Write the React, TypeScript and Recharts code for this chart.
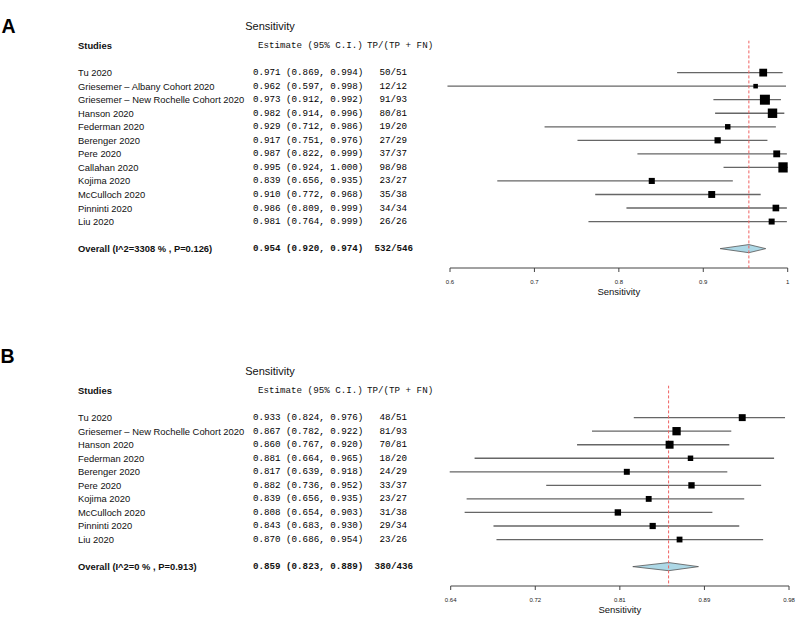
import React from 'react';
import { ComposedChart, Scatter, XAxis, YAxis, ErrorBar } from 'recharts';

// ---------- Panel A data ----------
const namesA = [
  'Tu 2020',
  'Griesemer – Albany Cohort 2020',
  'Griesemer – New Rochelle Cohort 2020',
  'Hanson 2020',
  'Federman 2020',
  'Berenger 2020',
  'Pere 2020',
  'Callahan 2020',
  'Kojima 2020',
  'McCulloch 2020',
  'Pinninti 2020',
  'Liu 2020',
];
const estA = [0.971, 0.962, 0.973, 0.982, 0.929, 0.917, 0.987, 0.995, 0.839, 0.910, 0.986, 0.981];
const lowA = [0.869, 0.597, 0.912, 0.914, 0.712, 0.751, 0.822, 0.924, 0.656, 0.772, 0.809, 0.764];
const highA = [0.994, 0.998, 0.992, 0.996, 0.986, 0.976, 0.999, 1.000, 0.935, 0.968, 0.999, 0.999];
const tpA = [50, 12, 91, 80, 19, 27, 37, 98, 23, 35, 34, 26];
const totalA = [51, 12, 93, 81, 20, 29, 37, 98, 27, 38, 34, 26];
const overallLabelA = 'Overall (I^2=3308 % , P=0.126)';
const overallA = [0.954, 0.920, 0.974];
const overallCountA = [532, 546];
const xTicksA = [0.6, 0.7, 0.8, 0.9, 1.0];
const xTickLabelsA = ['0.6', '0.7', '0.8', '0.9', '1'];

// ---------- Panel B data ----------
const namesB = [
  'Tu 2020',
  'Griesemer – New Rochelle Cohort 2020',
  'Hanson 2020',
  'Federman 2020',
  'Berenger 2020',
  'Pere 2020',
  'Kojima 2020',
  'McCulloch 2020',
  'Pinninti 2020',
  'Liu 2020',
];
const estB = [0.933, 0.867, 0.860, 0.881, 0.817, 0.882, 0.839, 0.808, 0.843, 0.870];
const lowB = [0.824, 0.782, 0.767, 0.664, 0.639, 0.736, 0.656, 0.654, 0.683, 0.686];
const highB = [0.976, 0.922, 0.920, 0.965, 0.918, 0.952, 0.935, 0.903, 0.930, 0.954];
const tpB = [48, 81, 70, 18, 24, 33, 23, 31, 29, 23];
const totalB = [51, 93, 81, 20, 29, 37, 27, 38, 34, 26];
const overallLabelB = 'Overall (I^2=0 % , P=0.913)';
const overallB = [0.859, 0.823, 0.889];
const overallCountB = [380, 436];
const xTicksB = [0.64, 0.725, 0.81, 0.895, 0.98];
const xTickLabelsB = ['0.64', '0.72', '0.81', '0.89', '0.98'];

const SANS = '"Liberation Sans", Arial, sans-serif';
const MONO = '"Liberation Mono", "Courier New", monospace';
const TXT = '#111';

type Panel = {
  names: string[];
  est: number[];
  low: number[];
  high: number[];
  tp: number[];
  total: number[];
  overallLabel: string;
  overall: number[];
  overallCount: number[];
  xTicks: number[];
  xTickLabels: string[];
  boxA: number;
  boxB: number;
  yAxisWidth: number;
  marginRight: number;
};

const panelA: Panel = {
  names: namesA, est: estA, low: lowA, high: highA, tp: tpA, total: totalA,
  overallLabel: overallLabelA, overall: overallA, overallCount: overallCountA,
  xTicks: xTicksA, xTickLabels: xTickLabelsA,
  boxA: 1.5, boxB: 0.88, yAxisWidth: 450, marginRight: 10.3,
};
const panelB: Panel = {
  names: namesB, est: estB, low: lowB, high: highB, tp: tpB, total: totalB,
  overallLabel: overallLabelB, overall: overallB, overallCount: overallCountB,
  xTicks: xTicksB, xTickLabels: xTickLabelsB,
  boxA: 3.0, boxB: 0.55, yAxisWidth: 450.7, marginRight: 9,
};

const fmtCI = (e: number, l: number, h: number) =>
  `${e.toFixed(3)} (${l.toFixed(3)}, ${h.toFixed(3)})`;

function RowTick(props: any) {
  const { y, payload, panel } = props as { y: number; payload: { value: number }; panel: Panel };
  const v = payload.value;
  const n = panel.names.length;
  if (v === -2) {
    return (
      <g>
        <text x={78} y={y} dominantBaseline="central" fontFamily={SANS} fontSize={9.4} fontWeight="bold" fill={TXT}>
          Studies
        </text>
        <text x={258} y={y} dominantBaseline="central" fontFamily={MONO} fontSize={9.2} fill={TXT}>
          Estimate (95% C.I.)
        </text>
        <text x={367} y={y} dominantBaseline="central" fontFamily={MONO} fontSize={9.2} fill={TXT}>
          TP/(TP + FN)
        </text>
      </g>
    );
  }
  if (v === n + 1) {
    return (
      <g>
        <text x={78} y={y} dominantBaseline="central" fontFamily={SANS} fontSize={9.4} fontWeight="bold" fill={TXT}>
          {panel.overallLabel}
        </text>
        <text x={253} y={y} dominantBaseline="central" fontFamily={MONO} fontSize={9.2} fontWeight="bold" fill={TXT}>
          {fmtCI(panel.overall[0], panel.overall[1], panel.overall[2])}
        </text>
        <text x={413} y={y} textAnchor="end" dominantBaseline="central" fontFamily={MONO} fontSize={9.2} fontWeight="bold" fill={TXT}>
          {`${panel.overallCount[0]}/${panel.overallCount[1]}`}
        </text>
      </g>
    );
  }
  if (v >= 0 && v < n) {
    return (
      <g>
        <text x={78} y={y} dominantBaseline="central" fontFamily={SANS} fontSize={9.4} fill={TXT}>
          {panel.names[v]}
        </text>
        <text x={253} y={y} dominantBaseline="central" fontFamily={MONO} fontSize={9.2} fill="#000">
          {fmtCI(panel.est[v], panel.low[v], panel.high[v])}
        </text>
        <text x={407} y={y} textAnchor="end" dominantBaseline="central" fontFamily={MONO} fontSize={9.2} fill="#000">
          {`${panel.tp[v]}/${panel.total[v]}`}
        </text>
      </g>
    );
  }
  return <g />;
}

function ForestPanel({ panel, height, yDomain }: { panel: Panel; height: number; yDomain: [number, number] }) {
  const n = panel.names.length;
  const rows = panel.names.map((name, i) => ({
    name,
    x: panel.est[i],
    y: i,
    err: [panel.est[i] - panel.low[i], panel.high[i] - panel.est[i]],
    total: panel.total[i],
  }));
  const oy = n + 1;
  const diamond = [
    { x: panel.overall[1], y: oy },
    { x: panel.overall[0], y: oy - 0.3 },
    { x: panel.overall[2], y: oy },
    { x: panel.overall[0], y: oy + 0.3 },
    { x: panel.overall[1], y: oy },
  ];
  const refLine = [
    { x: panel.overall[0], y: yDomain[0] },
    { x: panel.overall[0], y: yDomain[1] },
  ];
  const yTicks = [-2, ...panel.names.map((_, i) => i), n + 1];
  const xDomain: [number, number] = [panel.xTicks[0], panel.xTicks[panel.xTicks.length - 1]];

  const box = (p: any) => {
    const s = panel.boxA + panel.boxB * Math.sqrt(p.payload.total);
    return <rect x={p.cx - s / 2} y={p.cy - s / 2} width={s} height={s} fill="#000" />;
  };

  return (
    <ComposedChart
      width={798}
      height={height}
      margin={{ top: 40.4, right: panel.marginRight, bottom: 0, left: 0 }}
    >
      <XAxis
        type="number"
        dataKey="x"
        domain={xDomain}
        allowDataOverflow
        ticks={panel.xTicks}
        interval={0}
        tickFormatter={(v: number) => panel.xTickLabels[panel.xTicks.indexOf(v)] ?? String(v)}
        tickSize={4}
        tickMargin={7.5}
        height={30}
        stroke="#444"
        tick={{ fontSize: 6, fill: '#222', fontFamily: SANS }}
        label={{ value: 'Sensitivity', position: 'insideBottom', offset: 3.5, fontSize: 9.5, fill: TXT, fontFamily: SANS }}
      />
      <YAxis
        type="number"
        dataKey="y"
        domain={yDomain}
        allowDataOverflow
        reversed
        ticks={yTicks}
        interval={0}
        width={panel.yAxisWidth}
        axisLine={false}
        tickLine={false}
        tick={(p: any) => <RowTick {...p} panel={panel} />}
      />
      <Scatter data={rows} isAnimationActive={false} shape={() => <g />}>
        <ErrorBar dataKey="err" direction="x" width={0} stroke="#666" strokeWidth={1.3} />
      </Scatter>
      <Scatter
        data={diamond}
        isAnimationActive={false}
        shape={() => <g />}
        lineType="joint"
        line={(p: any) => (
          <polygon
            points={(p.points || []).map((pt: any) => `${pt.x},${pt.y}`).join(' ')}
            fill="#add8e6"
            stroke="#555"
            strokeWidth={0.8}
          />
        )}
      />
      <Scatter
        data={refLine}
        isAnimationActive={false}
        shape={() => <g />}
        lineType="joint"
        line={{ stroke: '#f06060', strokeWidth: 1, strokeDasharray: '3 2' }}
      />
      <Scatter data={rows} isAnimationActive={false} shape={box} />
    </ComposedChart>
  );
}

export default function App() {
  return (
    <div style={{ position: 'absolute', left: 0, top: 0, width: 798, height: 640, background: '#fff' }}>
      <svg width={798} height={640} style={{ position: 'absolute', left: 0, top: 0 }}>
        <text x={1.5} y={33.3} fontFamily={SANS} fontWeight="bold" fontSize={19.5} fill="#000">A</text>
        <text x={270} y={29.8} textAnchor="middle" fontFamily={SANS} fontSize={11} fill={TXT}>Sensitivity</text>
        <text x={0.5} y={363.3} fontFamily={SANS} fontWeight="bold" fontSize={19.5} fill="#000">B</text>
        <text x={270} y={374.8} textAnchor="middle" fontFamily={SANS} fontSize={11} fill={TXT}>Sensitivity</text>
      </svg>
      <div style={{ position: 'absolute', left: 0, top: 0 }}>
        <ForestPanel panel={panelA} height={298} yDomain={[-2.38, 14.43]} />
      </div>
      <div style={{ position: 'absolute', left: 0, top: 345 }}>
        <ForestPanel panel={panelB} height={271} yDomain={[-2.38, 12.43]} />
      </div>
    </div>
  );
}
